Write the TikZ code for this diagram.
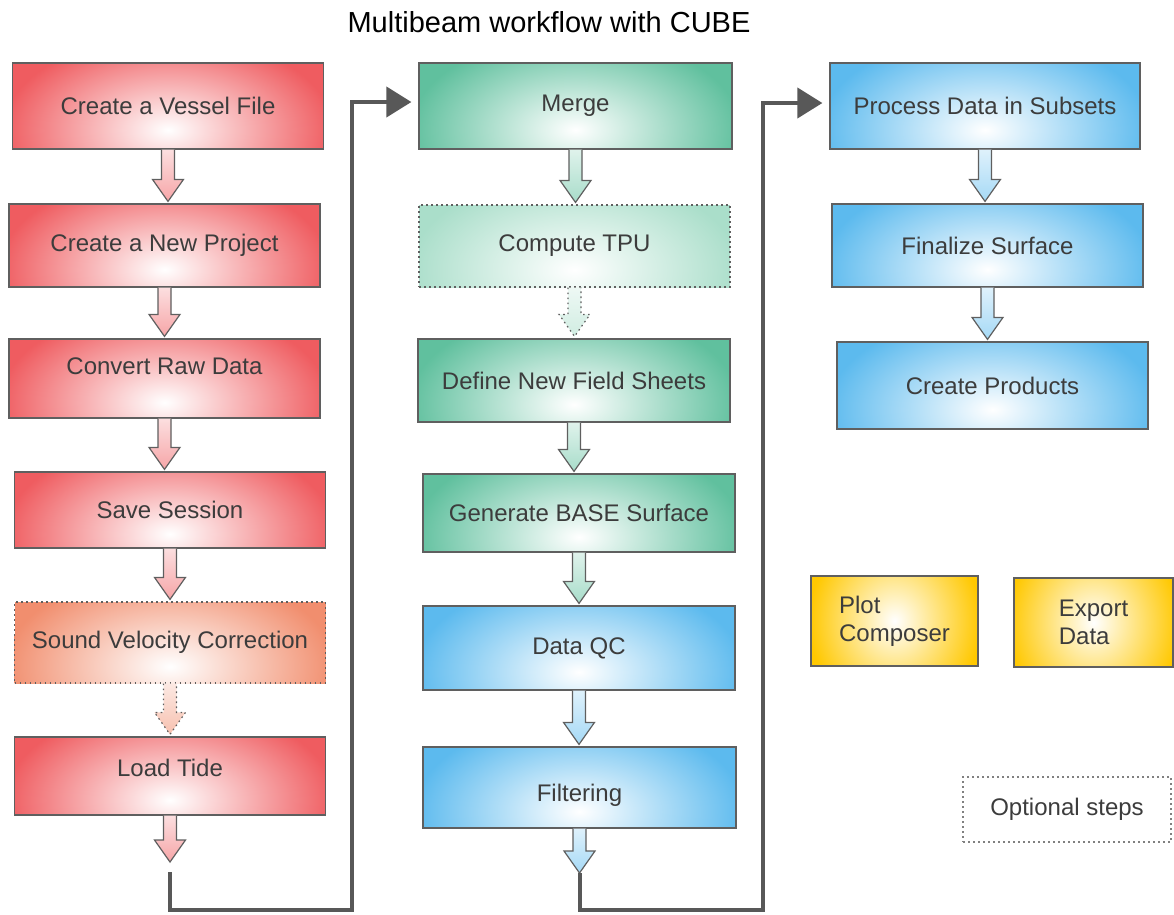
\documentclass[tikz,border=0pt]{standalone}
\usepackage{fontspec}
\setmainfont{Liberation Sans}
\usetikzlibrary{arrows.meta,calc}

\definecolor{boxred}{RGB}{239,92,96}
\definecolor{boxorange}{RGB}{241,142,110}
\definecolor{boxgreen}{RGB}{96,192,158}
\definecolor{boxpale}{RGB}{170,222,202}
\definecolor{boxblue}{RGB}{92,186,238}
\definecolor{boxyellow}{RGB}{255,200,0}
\definecolor{edgegray}{RGB}{95,95,95}
\definecolor{txtgray}{RGB}{60,60,60}
\definecolor{linkgray}{RGB}{88,88,88}

\newcommand{\boxfont}{\fontsize{24}{28}\selectfont}

% block arrow from the bottom of one box to the top of the next
\newcommand{\flowarrow}[3][]{%
  \draw[#1] let \p1=(#2), \p2=(#3) in
    (\x1-6.5pt,\y1) -- (\x1-6.5pt,\y2+24pt) -- (\x1-15.5pt,\y2+24pt)
    -- (\x1,\y2+2pt) -- (\x1+15.5pt,\y2+24pt) -- (\x1+6.5pt,\y2+24pt)
    -- (\x1+6.5pt,\y1);}

\begin{document}
\begin{tikzpicture}
  [
  x=1pt,y=-1pt,
  box/.style={rectangle,draw=edgegray,line width=1.2pt,inner sep=0pt,
    minimum width=311pt,font=\boxfont,text=txtgray},
  glow/.style={fill=#1,path picture={\shade[inner color=white,outer color=#1]
    ([yshift=-24pt]path picture bounding box.center) ellipse [x radius=165pt,y radius=95pt];}},
  yglow/.style={fill=boxyellow,path picture={\shade[inner color=white,outer color=boxyellow]
    (path picture bounding box.center) ellipse [x radius=86pt,y radius=95pt];}},
  optline/.style={dash pattern=on 1.6pt off 3.4pt},
  redbox/.style={box,glow=boxred},
  greenbox/.style={box,glow=boxgreen},
  bluebox/.style={box,glow=boxblue},
  yellowbox/.style={box,yglow,align=left},
  flow/.style={draw=edgegray,line width=1.2pt,line join=miter,top color=#1!20,bottom color=#1!55},
  link/.style={draw=linkgray,line width=4pt,line join=miter,
    -{Triangle[length=25pt,width=30pt]},shorten >=7pt},
  every label/.style={font=\boxfont,text=txtgray}
  ]
  \useasboundingbox (0,0) rectangle (1174,914);

  \node (title) at (549,32) [anchor=base,font=\fontsize{29}{35}\selectfont] {Multibeam workflow with CUBE};

  % first column
  \node (vessel) at (168,106) [redbox,minimum height=86pt] {Create a Vessel File};
  \node (project) at (164.5,245.5) [redbox,minimum height=83pt] {Create a New Project};
  \node (convert) at (164.5,378.5) [redbox,minimum height=79pt,
    label={[yshift=12pt]center:Convert Raw Data}] {};
  \node (save) at (170,510) [redbox,minimum height=76pt] {Save Session};
  \node (velocity) at (170,642.5) [box,glow=boxorange,optline,minimum height=81pt] {Sound Velocity Correction};
  \node (tide) at (170,776) [redbox,minimum height=78pt,
    label={[yshift=8pt]center:Load Tide}] {};
  \coordinate (tidetip) at (170,864);
  \coordinate (tideline) at (170,872);
  \coordinate (lbend) at (352,910);

  % second column
  \node (merge) at (575.5,106) [greenbox,minimum width=313pt,minimum height=86pt] {Merge};
  \node (tpu) at (574.5,246) [box,glow=boxpale,optline,minimum height=82pt] {Compute TPU};
  \node (sheets) at (574,380.5) [greenbox,minimum width=312pt,minimum height=83pt] {Define New Field Sheets};
  \node (base) at (579,513) [greenbox,minimum width=312pt,minimum height=78pt] {Generate BASE Surface};
  \node (qc) at (579,648) [bluebox,minimum width=312pt,minimum height=84pt] {Data QC};
  \node (filter) at (579.5,787.5) [bluebox,minimum width=313pt,minimum height=81pt,
    label={[yshift=-8pt]center:Filtering}] {};
  \coordinate (filtertip) at (579.5,875);
  \coordinate (filterline) at (579.5,873);
  \coordinate (rbend) at (763,910);

  % third column
  \node (subsets) at (985,106) [bluebox,minimum width=310pt,minimum height=86pt] {Process Data in Subsets};
  \node (finalize) at (987.5,245.5) [bluebox,minimum height=83pt] {Finalize Surface};
  \node (products) at (992.5,385.5) [bluebox,minimum height=87pt] {Create Products};

  \node (plot) at (894.5,621) [yellowbox,minimum width=167pt,minimum height=90pt] {Plot\\Composer};
  \node (export) at (1093.5,622.5) [yellowbox,minimum width=159pt,minimum height=89pt] {Export\\Data};

  \node (optional) at (1067,809.5) [rectangle,draw=gray,line width=1.2pt,optline,
    minimum width=208pt,minimum height=65pt,font=\boxfont,text=txtgray] {Optional steps};

  \flowarrow[flow=boxred]{vessel.south}{project.north}
  \flowarrow[flow=boxred]{project.south}{convert.north}
  \flowarrow[flow=boxred]{convert.south}{save.north}
  \flowarrow[flow=boxred]{save.south}{velocity.north}
  \flowarrow[flow=boxorange,optline]{velocity.south}{tide.north}
  \flowarrow[flow=boxred]{tide.south}{tidetip}

  \flowarrow[flow=boxgreen]{merge.south}{tpu.north}
  \flowarrow[flow=boxpale,optline]{tpu.south}{sheets.north}
  \flowarrow[flow=boxgreen]{sheets.south}{base.north}
  \flowarrow[flow=boxgreen]{base.south}{qc.north}
  \flowarrow[flow=boxblue]{qc.south}{filter.north}
  \flowarrow[flow=boxblue]{filter.south}{filtertip}

  \flowarrow[flow=boxblue]{subsets.south}{finalize.north}
  \flowarrow[flow=boxblue]{finalize.south}{products.north}

  \draw [link] (tideline) |- (lbend) |- ([yshift=4pt]merge.west);
  \draw [link] (filterline) |- (rbend) |- ([yshift=3pt]subsets.west);
\end{tikzpicture}
\end{document}
